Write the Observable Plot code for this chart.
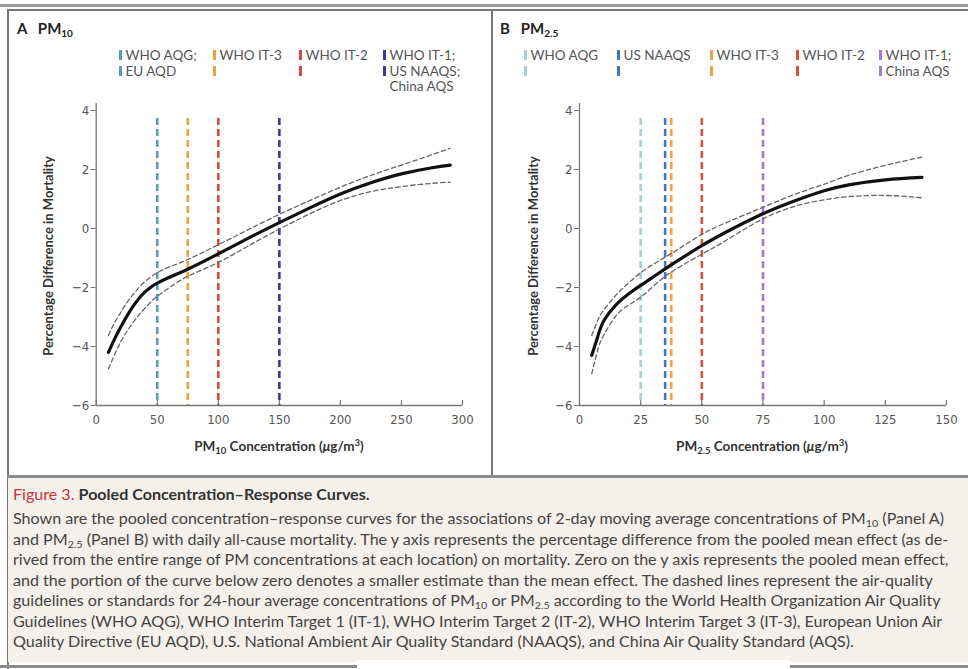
<!DOCTYPE html>
<html><head><meta charset="utf-8">
<script src="https://cdn.jsdelivr.net/npm/d3@7"></script>
<script src="https://cdn.jsdelivr.net/npm/@observablehq/plot@0.6"></script>
<style>
html,body{margin:0;padding:0;background:#fff;}
#page{position:relative;width:968px;height:669px;overflow:hidden;background:#fff;font-family:Lato,"Open Sans",sans-serif;color:#333;}
.abs{position:absolute;white-space:nowrap;}
.rule{position:absolute;}
.ttl{font-weight:700;color:#222;font-size:15px;line-height:18px;}
.ttl sub{font-size:10px;vertical-align:-3px;line-height:0;}
.leg{font-size:13.5px;color:#555;line-height:16px;}
.mk{position:absolute;width:2.6px;height:10px;}
.xl{font-weight:700;font-size:13.5px;color:#333;transform:translateX(-50%);}
.xl sub{font-size:9.5px;vertical-align:-3px;line-height:0;}
.xl sup{font-size:9.5px;vertical-align:5px;line-height:0;}
.yl{font-weight:700;font-size:13px;color:#333;transform:translate(-50%,-50%) rotate(-90deg);}
.cap{font-size:15px;color:#444;transform-origin:0 50%;line-height:20px;}
.cap sub{font-size:10px;vertical-align:-3px;line-height:0;}
.plot{position:absolute;}
</style></head><body><div id="page"></div>
<script>
// ---------------- data ----------------
const pm10X    = [10, 15, 20, 25, 30, 35, 40, 45, 50, 60, 75, 100, 125, 150, 175, 200, 225, 250, 275, 290];
const pm10Mean = [-4.2, -3.75, -3.35, -2.98, -2.65, -2.37, -2.15, -1.98, -1.85, -1.65, -1.38, -0.86, -0.32, 0.2, 0.7, 1.17, 1.55, 1.85, 2.06, 2.15];
const pm10Hi   = [-3.63, -3.2, -2.85, -2.52, -2.25, -2.0, -1.8, -1.63, -1.5, -1.3, -1.05, -0.55, -0.03, 0.48, 0.95, 1.4, 1.8, 2.15, 2.5, 2.72];
const pm10Lo   = [-4.76, -4.28, -3.85, -3.5, -3.2, -2.93, -2.7, -2.48, -2.3, -2.0, -1.62, -1.15, -0.58, -0.02, 0.5, 0.95, 1.25, 1.42, 1.53, 1.57];

const pm25X    = [5, 7.5, 10, 15, 20, 25, 30, 35, 40, 50, 60, 75, 90, 100, 110, 125, 140];
const pm25Mean = [-4.3, -3.65, -3.12, -2.58, -2.22, -1.93, -1.65, -1.37, -1.1, -0.58, -0.12, 0.5, 1.0, 1.28, 1.48, 1.65, 1.73];
const pm25Hi   = [-3.63, -3.1, -2.75, -2.25, -1.85, -1.5, -1.22, -0.97, -0.72, -0.2, 0.2, 0.72, 1.22, 1.5, 1.8, 2.14, 2.42];
const pm25Lo   = [-4.93, -4.1, -3.6, -2.95, -2.6, -2.33, -1.97, -1.62, -1.35, -0.87, -0.4, 0.33, 0.8, 0.97, 1.08, 1.12, 1.04];

const guidesA      = [50, 75, 100, 150];
const guideColorsA = ["#5a9db4", "#eaa43a", "#d64b3c", "#3c3a96"];
const guidesB      = [25, 35, 37.5, 50, 75];
const guideColorsB = ["#a9cde2", "#3e78c6", "#eca54a", "#d4553f", "#a679c9"];

const legendA = [["WHO AQG;", "EU AQD"], ["WHO IT-3", ""], ["WHO IT-2", ""], ["WHO IT-1;", "US NAAQS;", "China AQS"]];
const legendMarkersA = [2, 2, 2, 2];
const legendB = [["WHO AQG", ""], ["US NAAQS", ""], ["WHO IT-3", ""], ["WHO IT-2", ""], ["WHO IT-1;", "China AQS"]];
const legendMarkersB = [2, 2, 2, 2, 2];

const xTicksA = [0, 50, 100, 150, 200, 250, 300];
const xTicksB = [0, 25, 50, 75, 100, 125, 150];
const yTicks  = [-6, -4, -2, 0, 2, 4];

const yLabel = "Percentage Difference in Mortality";
const captionTitle = ["Figure 3.", "Pooled Concentration–Response Curves."];
const captionLines = [
  "Shown are the pooled concentration–response curves for the associations of 2-day moving average concentrations of PM<sub>10</sub> (Panel A)",
  "and PM<sub>2.5</sub> (Panel B) with daily all-cause mortality. The y axis represents the percentage difference from the pooled mean effect (as de-",
  "rived from the entire range of PM concentrations at each location) on mortality. Zero on the y axis represents the pooled mean effect,",
  "and the portion of the curve below zero denotes a smaller estimate than the mean effect. The dashed lines represent the air-quality",
  "guidelines or standards for 24-hour average concentrations of PM<sub>10</sub> or PM<sub>2.5</sub> according to the World Health Organization Air Quality",
  "Guidelines (WHO AQG), WHO Interim Target 1 (IT-1), WHO Interim Target 2 (IT-2), WHO Interim Target 3 (IT-3), European Union Air",
  "Quality Directive (EU AQD), U.S. National Ambient Air Quality Standard (NAAQS), and China Air Quality Standard (AQS)."
];

// ---------------- layout ----------------
const page = document.getElementById("page");
function add(html, cls, style) {
  const d = document.createElement("div");
  d.className = cls; d.innerHTML = html; Object.assign(d.style, style); page.appendChild(d); return d;
}
// frame rules
add("", "rule", {left:"0px", top:"4px", width:"968px", height:"2.5px", background:"#9a9a9a"});
add("", "rule", {left:"7px", top:"9px", width:"961px", height:"1.6px", background:"#7a7a7a"});
add("", "rule", {left:"7px", top:"9px", width:"1.8px", height:"660px", background:"#777"});
add("", "rule", {left:"491px", top:"9px", width:"1.6px", height:"467px", background:"#777"});
add("", "rule", {left:"8px", top:"476px", width:"960px", height:"186px", background:"#f4f0eb"});
add("", "rule", {left:"7px", top:"475px", width:"961px", height:"2.5px", background:"#8c8c8c"});
add("", "rule", {left:"0px", top:"665px", width:"968px", height:"2.5px", background:"#8c8c8c"});
add("", "rule", {left:"357px", top:"660px", width:"433px", height:"9px", background:"#fff"});

// titles
add('A&nbsp;&nbsp;&nbsp;PM<sub>10</sub>', "abs ttl", {left:"17px", top:"19px"});
add('B&nbsp;&nbsp;&nbsp;PM<sub>2.5</sub>', "abs ttl", {left:"500px", top:"19px"});

// legends
function legend(cols, markers, colors, xs, top) {
  cols.forEach((rows, c) => {
    rows.forEach((txt, r) => {
      const y = top + r * 15.5;
      if (r < markers[c]) add("", "mk", {left: xs[c] + "px", top: (y + 3) + "px", background: colors[c]});
      if (txt) add(txt, "abs leg", {left: (xs[c] + 6.5) + "px", top: y + "px"});
    });
  });
}
legend(legendA, legendMarkersA, guideColorsA, [119, 213, 299, 383], 47);
legend(legendB, legendMarkersB, guideColorsB, [524, 617, 710, 796, 879], 47);

// axis labels
add('PM<sub>10</sub> Concentration (<i>μ</i>g/m<sup>3</sup>)', "abs xl", {left:"279px", top:"438px"});
add('PM<sub>2.5</sub> Concentration (<i>μ</i>g/m<sup>3</sup>)', "abs xl", {left:"762px", top:"438px"});
add(yLabel, "abs yl", {left:"48px", top:"256px"});
add(yLabel, "abs yl", {left:"533px", top:"256px"});

// plots
const fmt = d => d < 0 ? "\u2212" + Math.abs(d) : String(d);
const tickFont = '"Liberation Sans Narrow","DejaVu Sans Condensed",Roboto,sans-serif';
function panel({xs, mean, lo, hi, guides, colors, xDomain, xTicks, left, width, ml, mr}) {
  const rows = xs.map((x, i) => ({x, mean: mean[i], lo: lo[i], hi: hi[i]}));
  const gd = guides.map((v, i) => ({v, c: colors[i]}));
  const p = Plot.plot({
    width, height: 370, marginLeft: ml, marginRight: mr, marginTop: 14, marginBottom: 61,
    x: {domain: xDomain}, y: {domain: [-6, 4]},
    style: {fontFamily: tickFont, fontSize: "13px", color: "#555", background: "transparent", overflow: "visible"},
    marks: [
      Plot.ruleX(gd, {x: "v", stroke: "c", strokeWidth: 2.6, strokeDasharray: "7,4", insetTop: 8}),
      Plot.line(rows, {x: "x", y: "hi", curve: "natural", stroke: "#666", strokeWidth: 1.3, strokeDasharray: "4.5,3"}),
      Plot.line(rows, {x: "x", y: "lo", curve: "natural", stroke: "#666", strokeWidth: 1.3, strokeDasharray: "4.5,3"}),
      Plot.line(rows, {x: "x", y: "mean", curve: "natural", stroke: "#111", strokeWidth: 3.2}),
      Plot.ruleY([-6], {stroke: "#777", strokeWidth: 1.3}),
      Plot.ruleX([0], {stroke: "#777", strokeWidth: 1.3, insetTop: -7}),
      Plot.ruleX(xTicks, {x: d => d, y1: -6, y2: -6, insetTop: -5, stroke: "#777", strokeWidth: 1.2}),
      Plot.axisX({ticks: xTicks, tickSize: 0, tickPadding: 9, label: null, tickFormat: d => String(d)}),
      Plot.axisY({ticks: yTicks, tickSize: 5, tickPadding: 2, label: null, tickFormat: fmt, stroke: "#777"})
    ]
  });
  p.classList.add("plot");
  p.style.left = left + "px"; p.style.top = "96px";
  page.appendChild(p);
}
panel({xs: pm10X, mean: pm10Mean, lo: pm10Lo, hi: pm10Hi, guides: guidesA, colors: guideColorsA,
       xDomain: [0, 300], xTicks: xTicksA, left: 8, width: 480, ml: 87.7, mr: 26});
panel({xs: pm25X, mean: pm25Mean, lo: pm25Lo, hi: pm25Hi, guides: guidesB, colors: guideColorsB,
       xDomain: [0, 150], xTicks: xTicksB, left: 492, width: 476, ml: 87, mr: 22});

// caption
const t = add('<span style="color:#c8323c">' + captionTitle[0] + '</span> <b style="color:#333">' + captionTitle[1] + '</b>', "abs cap", {left:"13px", top:"484px"});
const capEls = captionLines.map((ln, i) => add(ln, "abs cap", {left:"13px", top: (508 + i * 20.5) + "px"}));
const w0 = capEls[0].getBoundingClientRect().width;
const s = 931 / w0;
capEls.forEach(el => el.style.transform = "scaleX(" + s + ")");
t.style.transform = "scaleX(" + s + ")";
</script>
</body></html>
